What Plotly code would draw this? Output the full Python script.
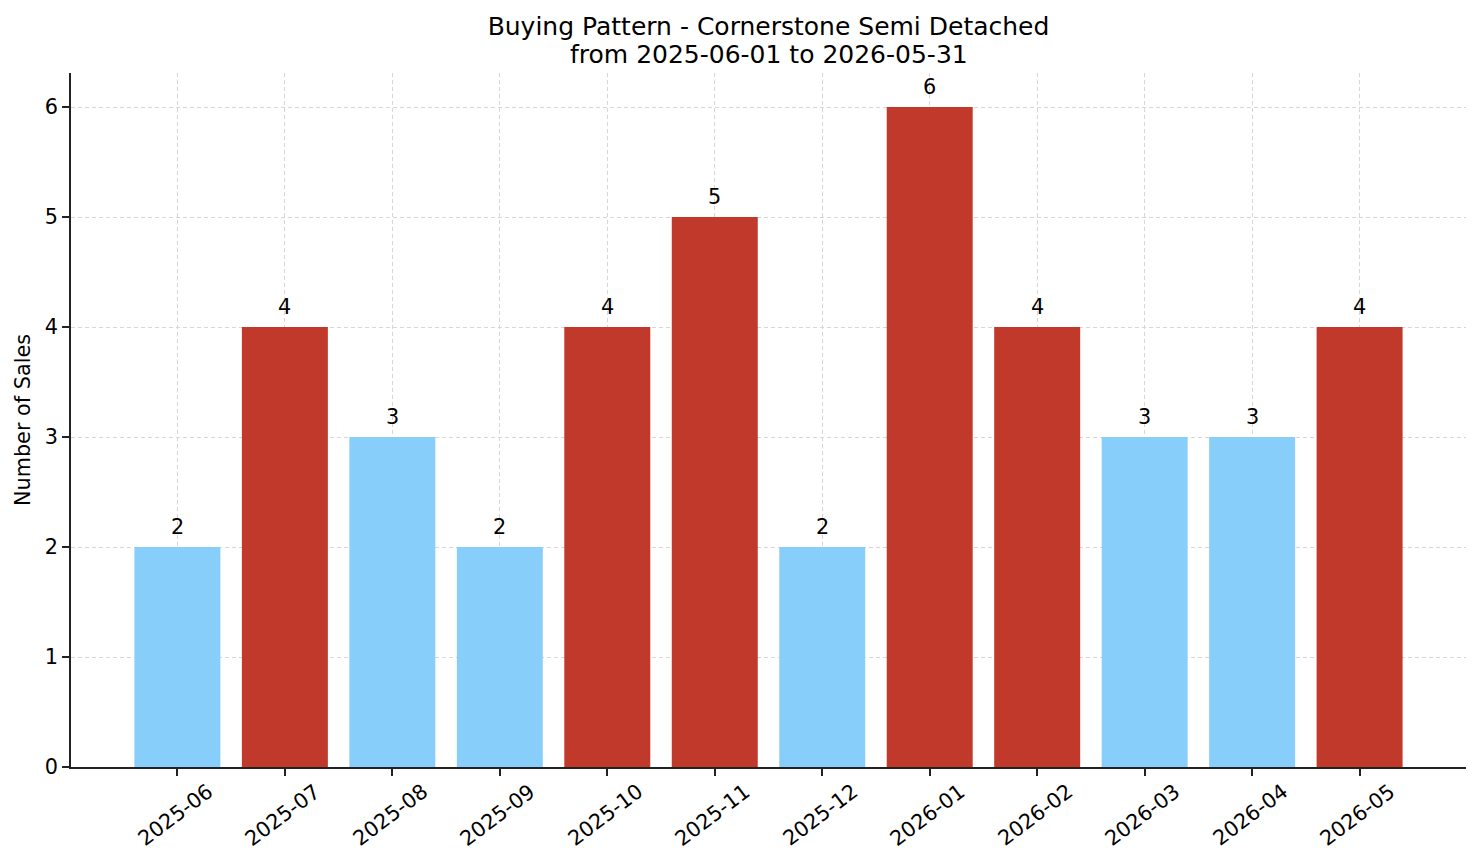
import plotly.graph_objects as go

months = ["2025-06", "2025-07", "2025-08", "2025-09", "2025-10", "2025-11",
          "2025-12", "2026-01", "2026-02", "2026-03", "2026-04", "2026-05"]
sales = [2, 4, 3, 2, 4, 5, 2, 6, 4, 3, 3, 4]
colors = ["#C0392B" if v >= 4 else "#87CEFA" for v in sales]
title_line1 = "Buying Pattern - Cornerstone Semi Detached"
title_line2 = "from 2025-06-01 to 2026-05-31"

xs = list(range(len(months)))
FONT = "DejaVu Sans"
FS = 20.8

fig = go.Figure()
fig.add_trace(go.Bar(x=xs, y=sales, marker=dict(color=colors, line=dict(width=0)),
                     width=0.8, showlegend=False, hoverinfo="skip"))

ann = []
for x, v in zip(xs, sales):
    ann.append(dict(x=x, y=v, text=str(v), showarrow=False, xref="x", yref="y",
                    yanchor="bottom", yshift=6, font=dict(size=FS, color="black", family=FONT)))
for x, m in zip(xs, months):
    ann.append(dict(x=x, y=0, text=m, showarrow=False, xref="x", yref="y",
                    yanchor="middle", xanchor="center", yshift=-48, xshift=-2, textangle=-37,
                    font=dict(size=FS, color="black", family=FONT)))
ann.append(dict(x=0.5, y=1 + (73 - 54) / 694, xref="paper", yref="paper", text=title_line2,
                showarrow=False, xanchor="center", yanchor="middle",
                font=dict(size=25, family=FONT, color="black")))

fig.update_layout(
    width=1481, height=863,
    margin=dict(l=71, r=15, t=73, b=96),
    paper_bgcolor="white", plot_bgcolor="white",
    font=dict(family=FONT, size=FS, color="black"),
    title=dict(text=title_line1,
               x=768.5 / 1481, xanchor="center", y=1 - 26 / 863, yanchor="middle",
               font=dict(size=25, family=FONT, color="black")),
    annotations=ann,
    bargap=0.2,
)
fig.update_xaxes(range=[-0.99, 11.99], tickmode="array", tickvals=xs, showticklabels=False,
                 ticks="outside", ticklen=7, tickwidth=1.6, tickcolor="#222",
                 showline=True, linecolor="#222", linewidth=1.7,
                 showgrid=True, gridcolor="#d6d6d6", griddash="4px,3px", gridwidth=0.9,
                 zeroline=False, layer="above traces")
fig.update_yaxes(range=[0, 6.31], tickmode="array", tickvals=[0, 1, 2, 3, 4, 5, 6],
                 ticks="outside", ticklen=7, tickwidth=1.6, tickcolor="#222",
                 tickfont=dict(size=FS, family=FONT, color="black"),
                 showline=True, linecolor="#222", linewidth=1.7,
                 showgrid=True, gridcolor="#d6d6d6", griddash="4px,3px", gridwidth=0.9,
                 zeroline=False, layer="above traces",
                 title=dict(text="Number of Sales", font=dict(size=FS, family=FONT, color="black"), standoff=8))

fig.write_html("out.html")
